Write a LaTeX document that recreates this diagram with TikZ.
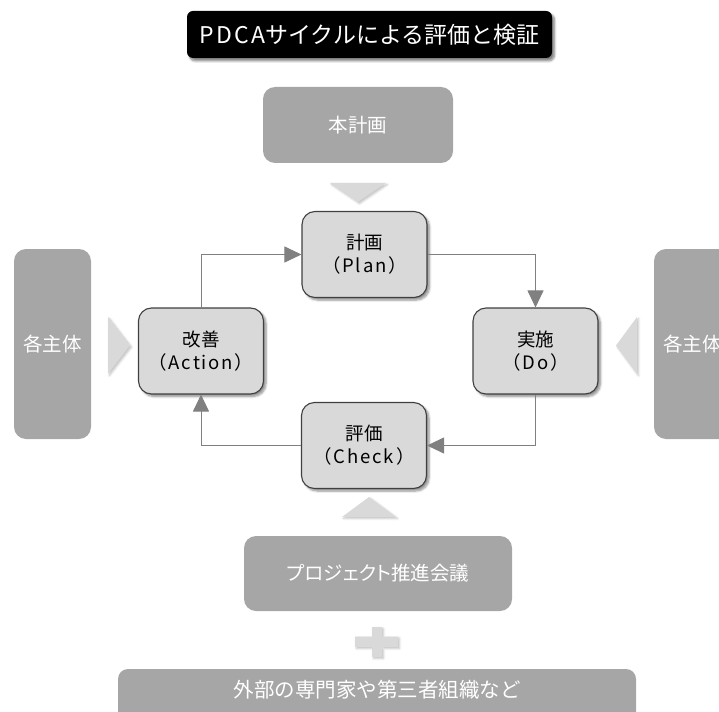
\documentclass[tikz,border=0pt]{standalone}
\usepackage{fontspec}
\setmainfont{Noto Sans CJK JP}
\usetikzlibrary{arrows.meta,shadows.blur}
\definecolor{boxgray}{HTML}{A6A6A6}
\definecolor{cyclefill}{HTML}{D9D9D9}
\definecolor{cycledraw}{HTML}{404040}
\definecolor{arrowgray}{HTML}{808080}
\definecolor{chev}{HTML}{D9D9D9}
\newcommand{\spaced}[1]{{\addfontfeatures{LetterSpace=10}#1}}
\begin{document}
\begin{tikzpicture}[x=1pt,y=-1pt,
  graybox/.style={fill=boxgray, rounded corners=12pt, text=white,
    font=\fontsize{19.5}{22}\selectfont, inner sep=0pt, align=center},
  cyclebox/.style={fill=cyclefill, draw=cycledraw, line width=1.1pt,
    rounded corners=13pt, minimum width=125pt, minimum height=86pt,
    font=\fontsize{18.5}{23}\selectfont, align=center, inner sep=0pt,
    blur shadow={shadow xshift=2.5pt, shadow yshift=-2.5pt, shadow blur steps=6, shadow opacity=45}},
  titlebox/.style={fill=black, rounded corners=6pt, text=white,
    font=\fontsize{23}{26}\selectfont, inner sep=0pt,
    minimum width=365pt, minimum height=47pt,
    blur shadow={shadow xshift=2.5pt, shadow yshift=-3pt, shadow blur steps=6, shadow opacity=50}},
  flow/.style={draw=arrowgray, line width=1pt, -{Triangle[length=17pt,width=16pt]}},
  chevron/.style={fill=chev, draw=none,
    blur shadow={shadow xshift=1.5pt, shadow yshift=-1.5pt, shadow blur steps=4, shadow opacity=25}}]
\useasboundingbox (0,0) rectangle (719,711);

% title
\node[titlebox] (title) at (369.5,34.5) {\spaced{PDCA}サイクルによる評価と検証};

% top input
\node[graybox, minimum width=190pt, minimum height=76pt] (honkeikaku) at (358,125) {本計画};
\fill[chevron] (330,183) -- (386,183) -- (358,202) -- cycle;

% cycle
\node[cyclebox] (plan) at (364.5,254.5) {計画\\\spaced{（Plan）}};
\node[cyclebox] (act) at (201,351) {改善\\\spaced{（Action）}};
\node[cyclebox] (do) at (535.5,351) {実施\\\spaced{（Do）}};
\node[cyclebox] (chk) at (364,445.5) {評価\\\spaced{（Check）}};

\draw[flow] (plan.east) -| (do.north);
\draw[flow] (do.south) |- (chk.east);
\draw[flow] (chk.west) -| (act.south);
\draw[flow] (act.north) |- (plan.west);

% side actors
\node[graybox, minimum width=77pt, minimum height=190pt] (leftactor) at (52.5,344) {各主体};
\node[graybox, minimum width=77pt, minimum height=190pt] (rightactor) at (692.5,344) {各主体};
\fill[chevron] (108,317) -- (130,345.5) -- (108,374) -- cycle;
\fill[chevron] (637,317) -- (616,345.5) -- (637,374) -- cycle;

% bottom
\fill[chevron] (342,517) -- (396,517) -- (369,497) -- cycle;
\node[graybox, minimum width=268pt, minimum height=75pt] (project) at (378,573.5) {{\addfontfeatures{RawFeature=+palt}プロジェクト推進会議}};
\fill[chevron] (355,636.5) rectangle (398,647) (372,627) rectangle (382,657);
\fill[boxgray, rounded corners=10pt] (118,669) rectangle (636,770);
\node[text=white, font=\fontsize{20.5}{22}\selectfont, inner sep=0pt] (external) at (377,690) {外部の専門家や第三者組織など};
\end{tikzpicture}
\end{document}
